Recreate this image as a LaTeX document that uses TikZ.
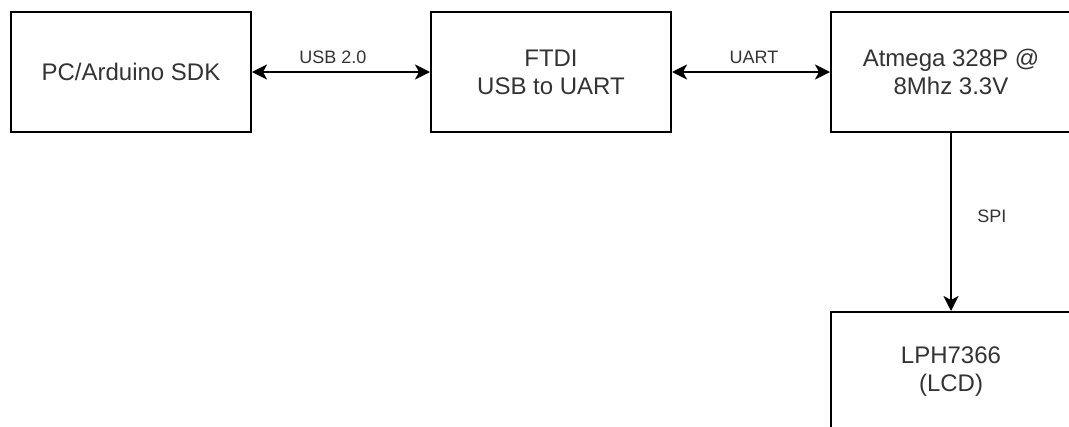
\documentclass[tikz,border=0pt]{standalone}
\usepackage{fontspec}
\setmainfont{Liberation Sans}
\usetikzlibrary{arrows.meta}
\begin{document}
\begin{tikzpicture}[x=1pt, y=-1pt, >={Stealth[length=15pt,width=15pt,inset=4pt]},
    block/.style={draw, line width=2pt, minimum width=240pt, minimum height=120pt, align=center, text=black!80, font=\fontsize{24}{28}\selectfont},
    lbl/.style={text=black!80, font=\fontsize{18}{21}\selectfont}]
    \useasboundingbox (0,0) rectangle (1069,426);
    \clip (0,0) rectangle (1069,426);
    \node[block] (pc) at (131,72) {PC/Arduino SDK};
    \node[block] (ftdi) at (551,72) {FTDI\\USB to UART};
    \node[block] (mcu) at (951,72) {Atmega 328P @\\8Mhz 3.3V};
    \node[block] (lcd) at (951,372) {LPH7366\\(LCD)};

    \draw[<->,line width=2pt] (pc)--(ftdi) node[lbl,midway,above=4pt,xshift=-8pt] {USB 2.0};
    \draw[<->,line width=2pt] (ftdi)--(mcu) node[lbl,midway,above=4pt,xshift=3pt] {UART};
    \draw[->,line width=2pt] (mcu)--(lcd) node[lbl,midway,right=22pt,yshift=6pt] {SPI};
\end{tikzpicture}
\end{document}
